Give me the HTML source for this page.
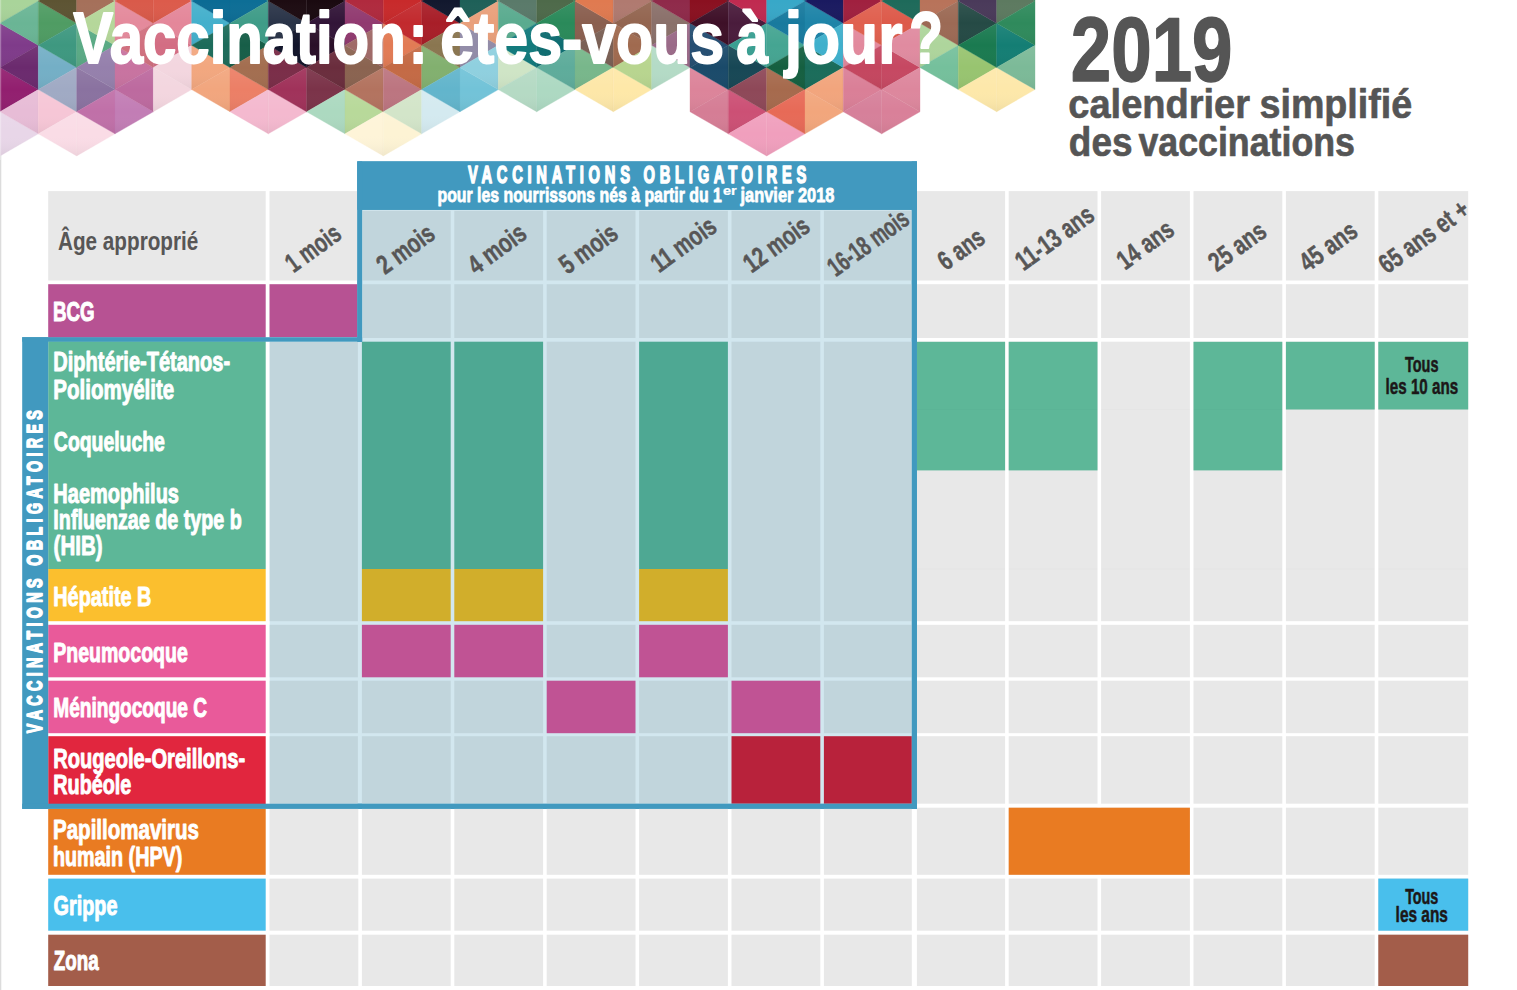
<!DOCTYPE html>
<html><head><meta charset="utf-8"><title>Vaccination : êtes-vous à jour ? 2019 calendrier simplifié des vaccinations</title>
<style>html,body{margin:0;padding:0;background:#fff;width:1517px;height:990px;overflow:hidden}svg{display:block}</style>
</head><body>
<svg width="1517" height="990" viewBox="0 0 1517 990"><rect x="0.00" y="0.00" width="1.30" height="990.00" fill="#dcdcdc"/>
<defs><linearGradient id="tg" x1="0" y1="0" x2="0" y2="1"><stop offset="0" stop-color="#fff" stop-opacity="0.07"/><stop offset="0.5" stop-color="#fff" stop-opacity="0"/><stop offset="1" stop-color="#000" stop-opacity="0.05"/></linearGradient></defs>
<g stroke-width="0.35" stroke-linejoin="round"><polygon points="0.00,156.00 0.00,111.74 38.33,133.87" stroke="#e8d6e8" fill="#e8d6e8"/>
<polygon points="0.00,111.74 0.00,67.47 38.33,89.60" stroke="#921f6f" fill="#921f6f"/>
<polygon points="0.00,67.47 0.00,23.21 38.33,45.34" stroke="#7f3b8a" fill="#7f3b8a"/>
<polygon points="0.00,23.21 0.00,-21.05 38.33,1.08" stroke="#a9d49a" fill="#a9d49a"/>
<polygon points="38.33,133.87 38.33,89.60 0.00,111.74" stroke="#e7bcd6" fill="#e7bcd6"/>
<polygon points="38.33,89.60 38.33,45.34 0.00,67.47" stroke="#6b2a6e" fill="#6b2a6e"/>
<polygon points="38.33,45.34 38.33,1.08 0.00,23.21" stroke="#6ab595" fill="#6ab595"/>
<polygon points="38.33,1.08 38.33,-43.19 0.00,-21.05" stroke="#a9d49a" fill="#a9d49a"/>
<polygon points="38.33,133.87 38.33,89.60 76.67,111.74" stroke="#f6c6d6" fill="#f6c6d6"/>
<polygon points="38.33,89.60 38.33,45.34 76.67,67.47" stroke="#74afc6" fill="#74afc6"/>
<polygon points="38.33,45.34 38.33,1.08 76.67,23.21" stroke="#4f9c63" fill="#4f9c63"/>
<polygon points="38.33,1.08 38.33,-43.19 76.67,-21.05" stroke="#a9d49a" fill="#a9d49a"/>
<polygon points="76.67,156.00 76.67,111.74 38.33,133.87" stroke="#fadce6" fill="#fadce6"/>
<polygon points="76.67,111.74 76.67,67.47 38.33,89.60" stroke="#a0aac4" fill="#a0aac4"/>
<polygon points="76.67,67.47 76.67,23.21 38.33,45.34" stroke="#3e9880" fill="#3e9880"/>
<polygon points="76.67,23.21 76.67,-21.05 38.33,1.08" stroke="#5d5433" fill="#5d5433"/>
<polygon points="76.67,156.00 76.67,111.74 115.00,133.87" stroke="#fadce6" fill="#fadce6"/>
<polygon points="76.67,111.74 76.67,67.47 115.00,89.60" stroke="#8a72a0" fill="#8a72a0"/>
<polygon points="76.67,67.47 76.67,23.21 115.00,45.34" stroke="#5aaa85" fill="#5aaa85"/>
<polygon points="76.67,23.21 76.67,-21.05 115.00,1.08" stroke="#a5705a" fill="#a5705a"/>
<polygon points="115.00,133.87 115.00,89.60 76.67,111.74" stroke="#c070a8" fill="#c070a8"/>
<polygon points="115.00,89.60 115.00,45.34 76.67,67.47" stroke="#9580ac" fill="#9580ac"/>
<polygon points="115.00,45.34 115.00,1.08 76.67,23.21" stroke="#b5d79a" fill="#b5d79a"/>
<polygon points="115.00,1.08 115.00,-43.19 76.67,-21.05" stroke="#b5d79a" fill="#b5d79a"/>
<polygon points="115.00,133.87 115.00,89.60 153.33,111.74" stroke="#c27db5" fill="#c27db5"/>
<polygon points="115.00,89.60 115.00,45.34 153.33,67.47" stroke="#c873a0" fill="#c873a0"/>
<polygon points="115.00,45.34 115.00,1.08 153.33,23.21" stroke="#e48a9c" fill="#e48a9c"/>
<polygon points="115.00,1.08 115.00,-43.19 153.33,-21.05" stroke="#e48a9c" fill="#e48a9c"/>
<polygon points="153.33,111.74 153.33,67.47 115.00,89.60" stroke="#bd6a9f" fill="#bd6a9f"/>
<polygon points="153.33,67.47 153.33,23.21 115.00,45.34" stroke="#d0707f" fill="#d0707f"/>
<polygon points="153.33,23.21 153.33,-21.05 115.00,1.08" stroke="#d95a4a" fill="#d95a4a"/>
<polygon points="153.33,111.74 153.33,67.47 191.67,89.60" stroke="#f3d6df" fill="#f3d6df"/>
<polygon points="153.33,67.47 153.33,23.21 191.67,45.34" stroke="#d36d83" fill="#d36d83"/>
<polygon points="153.33,23.21 153.33,-21.05 191.67,1.08" stroke="#dc5b4b" fill="#dc5b4b"/>
<polygon points="191.67,89.60 191.67,45.34 153.33,67.47" stroke="#f3d6df" fill="#f3d6df"/>
<polygon points="191.67,45.34 191.67,1.08 153.33,23.21" stroke="#e4879a" fill="#e4879a"/>
<polygon points="191.67,1.08 191.67,-43.19 153.33,-21.05" stroke="#e4879a" fill="#e4879a"/>
<polygon points="191.67,89.60 191.67,45.34 230.00,67.47" stroke="#f2a77f" fill="#f2a77f"/>
<polygon points="191.67,45.34 191.67,1.08 230.00,23.21" stroke="#44b0cc" fill="#44b0cc"/>
<polygon points="191.67,1.08 191.67,-43.19 230.00,-21.05" stroke="#44b0cc" fill="#44b0cc"/>
<polygon points="230.00,111.74 230.00,67.47 191.67,89.60" stroke="#f2a67e" fill="#f2a67e"/>
<polygon points="230.00,67.47 230.00,23.21 191.67,45.34" stroke="#1c6b5a" fill="#1c6b5a"/>
<polygon points="230.00,23.21 230.00,-21.05 191.67,1.08" stroke="#0b6b94" fill="#0b6b94"/>
<polygon points="230.00,111.74 230.00,67.47 268.33,89.60" stroke="#ec7f66" fill="#ec7f66"/>
<polygon points="230.00,67.47 230.00,23.21 268.33,45.34" stroke="#175e48" fill="#175e48"/>
<polygon points="230.00,23.21 230.00,-21.05 268.33,1.08" stroke="#0d6e96" fill="#0d6e96"/>
<polygon points="268.33,133.87 268.33,89.60 230.00,111.74" stroke="#f4b9cf" fill="#f4b9cf"/>
<polygon points="268.33,89.60 268.33,45.34 230.00,67.47" stroke="#a36e50" fill="#a36e50"/>
<polygon points="268.33,45.34 268.33,1.08 230.00,23.21" stroke="#3f9c88" fill="#3f9c88"/>
<polygon points="268.33,1.08 268.33,-43.19 230.00,-21.05" stroke="#3f9c88" fill="#3f9c88"/>
<polygon points="268.33,133.87 268.33,89.60 306.67,111.74" stroke="#f4b9cf" fill="#f4b9cf"/>
<polygon points="268.33,89.60 268.33,45.34 306.67,67.47" stroke="#7a2d48" fill="#7a2d48"/>
<polygon points="268.33,45.34 268.33,1.08 306.67,23.21" stroke="#2a3448" fill="#2a3448"/>
<polygon points="268.33,1.08 268.33,-43.19 306.67,-21.05" stroke="#2a3448" fill="#2a3448"/>
<polygon points="306.67,111.74 306.67,67.47 268.33,89.60" stroke="#a0325a" fill="#a0325a"/>
<polygon points="306.67,67.47 306.67,23.21 268.33,45.34" stroke="#12152a" fill="#12152a"/>
<polygon points="306.67,23.21 306.67,-21.05 268.33,1.08" stroke="#1d0c12" fill="#1d0c12"/>
<polygon points="306.67,111.74 306.67,67.47 345.00,89.60" stroke="#7b3349" fill="#7b3349"/>
<polygon points="306.67,67.47 306.67,23.21 345.00,45.34" stroke="#2a0f28" fill="#2a0f28"/>
<polygon points="306.67,23.21 306.67,-21.05 345.00,1.08" stroke="#1a0a10" fill="#1a0a10"/>
<polygon points="345.00,133.87 345.00,89.60 306.67,111.74" stroke="#acd9c0" fill="#acd9c0"/>
<polygon points="345.00,89.60 345.00,45.34 306.67,67.47" stroke="#6a2d3d" fill="#6a2d3d"/>
<polygon points="345.00,45.34 345.00,1.08 306.67,23.21" stroke="#321538" fill="#321538"/>
<polygon points="345.00,1.08 345.00,-43.19 306.67,-21.05" stroke="#321538" fill="#321538"/>
<polygon points="345.00,133.87 345.00,89.60 383.33,111.74" stroke="#b8d99a" fill="#b8d99a"/>
<polygon points="345.00,89.60 345.00,45.34 383.33,67.47" stroke="#8a6350" fill="#8a6350"/>
<polygon points="345.00,45.34 345.00,1.08 383.33,23.21" stroke="#913a70" fill="#913a70"/>
<polygon points="345.00,1.08 345.00,-43.19 383.33,-21.05" stroke="#913a70" fill="#913a70"/>
<polygon points="383.33,156.00 383.33,111.74 345.00,133.87" stroke="#fef4d8" fill="#fef4d8"/>
<polygon points="383.33,111.74 383.33,67.47 345.00,89.60" stroke="#b3735f" fill="#b3735f"/>
<polygon points="383.33,67.47 383.33,23.21 345.00,45.34" stroke="#a06a68" fill="#a06a68"/>
<polygon points="383.33,23.21 383.33,-21.05 345.00,1.08" stroke="#b02a3e" fill="#b02a3e"/>
<polygon points="383.33,156.00 383.33,111.74 421.67,133.87" stroke="#fdf3d4" fill="#fdf3d4"/>
<polygon points="383.33,111.74 383.33,67.47 421.67,89.60" stroke="#bc7580" fill="#bc7580"/>
<polygon points="383.33,67.47 383.33,23.21 421.67,45.34" stroke="#e27b55" fill="#e27b55"/>
<polygon points="383.33,23.21 383.33,-21.05 421.67,1.08" stroke="#c82a2b" fill="#c82a2b"/>
<polygon points="421.67,133.87 421.67,89.60 383.33,111.74" stroke="#d3e5c9" fill="#d3e5c9"/>
<polygon points="421.67,89.60 421.67,45.34 383.33,67.47" stroke="#c46a45" fill="#c46a45"/>
<polygon points="421.67,45.34 421.67,1.08 383.33,23.21" stroke="#c22a2e" fill="#c22a2e"/>
<polygon points="421.67,1.08 421.67,-43.19 383.33,-21.05" stroke="#c22a2e" fill="#c22a2e"/>
<polygon points="421.67,133.87 421.67,89.60 460.00,111.74" stroke="#d4eaf0" fill="#d4eaf0"/>
<polygon points="421.67,89.60 421.67,45.34 460.00,67.47" stroke="#82b06f" fill="#82b06f"/>
<polygon points="421.67,45.34 421.67,1.08 460.00,23.21" stroke="#a81e28" fill="#a81e28"/>
<polygon points="421.67,1.08 421.67,-43.19 460.00,-21.05" stroke="#a81e28" fill="#a81e28"/>
<polygon points="460.00,111.74 460.00,67.47 421.67,89.60" stroke="#62b5cc" fill="#62b5cc"/>
<polygon points="460.00,67.47 460.00,23.21 421.67,45.34" stroke="#8a7650" fill="#8a7650"/>
<polygon points="460.00,23.21 460.00,-21.05 421.67,1.08" stroke="#12182e" fill="#12182e"/>
<polygon points="460.00,111.74 460.00,67.47 498.33,89.60" stroke="#72c3d8" fill="#72c3d8"/>
<polygon points="460.00,67.47 460.00,23.21 498.33,45.34" stroke="#928ca8" fill="#928ca8"/>
<polygon points="460.00,23.21 460.00,-21.05 498.33,1.08" stroke="#1e6058" fill="#1e6058"/>
<polygon points="498.33,89.60 498.33,45.34 460.00,67.47" stroke="#8fd0df" fill="#8fd0df"/>
<polygon points="498.33,45.34 498.33,1.08 460.00,23.21" stroke="#e9a07b" fill="#e9a07b"/>
<polygon points="498.33,1.08 498.33,-43.19 460.00,-21.05" stroke="#e9a07b" fill="#e9a07b"/>
<polygon points="498.33,89.60 498.33,45.34 536.67,67.47" stroke="#cfe5c6" fill="#cfe5c6"/>
<polygon points="498.33,45.34 498.33,1.08 536.67,23.21" stroke="#5aab8f" fill="#5aab8f"/>
<polygon points="498.33,1.08 498.33,-43.19 536.67,-21.05" stroke="#5aab8f" fill="#5aab8f"/>
<polygon points="536.67,111.74 536.67,67.47 498.33,89.60" stroke="#b5dac4" fill="#b5dac4"/>
<polygon points="536.67,67.47 536.67,23.21 498.33,45.34" stroke="#127a7c" fill="#127a7c"/>
<polygon points="536.67,23.21 536.67,-21.05 498.33,1.08" stroke="#5a7a6a" fill="#5a7a6a"/>
<polygon points="536.67,111.74 536.67,67.47 575.00,89.60" stroke="#add9c2" fill="#add9c2"/>
<polygon points="536.67,67.47 536.67,23.21 575.00,45.34" stroke="#0e6c70" fill="#0e6c70"/>
<polygon points="536.67,23.21 536.67,-21.05 575.00,1.08" stroke="#4e6a4a" fill="#4e6a4a"/>
<polygon points="575.00,89.60 575.00,45.34 536.67,67.47" stroke="#5eac9b" fill="#5eac9b"/>
<polygon points="575.00,45.34 575.00,1.08 536.67,23.21" stroke="#2a8a5a" fill="#2a8a5a"/>
<polygon points="575.00,1.08 575.00,-43.19 536.67,-21.05" stroke="#2a8a5a" fill="#2a8a5a"/>
<polygon points="575.00,89.60 575.00,45.34 613.33,67.47" stroke="#78b78b" fill="#78b78b"/>
<polygon points="575.00,45.34 575.00,1.08 613.33,23.21" stroke="#8a5f4f" fill="#8a5f4f"/>
<polygon points="575.00,1.08 575.00,-43.19 613.33,-21.05" stroke="#8a5f4f" fill="#8a5f4f"/>
<polygon points="613.33,111.74 613.33,67.47 575.00,89.60" stroke="#fde7a8" fill="#fde7a8"/>
<polygon points="613.33,67.47 613.33,23.21 575.00,45.34" stroke="#7a6055" fill="#7a6055"/>
<polygon points="613.33,23.21 613.33,-21.05 575.00,1.08" stroke="#e07a50" fill="#e07a50"/>
<polygon points="613.33,111.74 613.33,67.47 651.67,89.60" stroke="#fee8a8" fill="#fee8a8"/>
<polygon points="613.33,67.47 613.33,23.21 651.67,45.34" stroke="#a06a4f" fill="#a06a4f"/>
<polygon points="613.33,23.21 613.33,-21.05 651.67,1.08" stroke="#b07a70" fill="#b07a70"/>
<polygon points="651.67,89.60 651.67,45.34 613.33,67.47" stroke="#b8d58f" fill="#b8d58f"/>
<polygon points="651.67,45.34 651.67,1.08 613.33,23.21" stroke="#936550" fill="#936550"/>
<polygon points="651.67,1.08 651.67,-43.19 613.33,-21.05" stroke="#936550" fill="#936550"/>
<polygon points="651.67,89.60 651.67,45.34 690.00,67.47" stroke="#b4dbc6" fill="#b4dbc6"/>
<polygon points="651.67,45.34 651.67,1.08 690.00,23.21" stroke="#8a706a" fill="#8a706a"/>
<polygon points="651.67,1.08 651.67,-43.19 690.00,-21.05" stroke="#8a706a" fill="#8a706a"/>
<polygon points="690.00,67.47 690.00,23.21 651.67,45.34" stroke="#9a6a88" fill="#9a6a88"/>
<polygon points="690.00,23.21 690.00,-21.05 651.67,1.08" stroke="#8f2a4a" fill="#8f2a4a"/>
<polygon points="690.00,111.74 690.00,67.47 728.33,89.60" stroke="#dc849a" fill="#dc849a"/>
<polygon points="690.00,67.47 690.00,23.21 728.33,45.34" stroke="#254e72" fill="#254e72"/>
<polygon points="690.00,23.21 690.00,-21.05 728.33,1.08" stroke="#8a1020" fill="#8a1020"/>
<polygon points="728.33,133.87 728.33,89.60 690.00,111.74" stroke="#d57d95" fill="#d57d95"/>
<polygon points="728.33,89.60 728.33,45.34 690.00,67.47" stroke="#1a4a6a" fill="#1a4a6a"/>
<polygon points="728.33,45.34 728.33,1.08 690.00,23.21" stroke="#3e1028" fill="#3e1028"/>
<polygon points="728.33,1.08 728.33,-43.19 690.00,-21.05" stroke="#3e1028" fill="#3e1028"/>
<polygon points="728.33,133.87 728.33,89.60 766.67,111.74" stroke="#cc5075" fill="#cc5075"/>
<polygon points="728.33,89.60 728.33,45.34 766.67,67.47" stroke="#174755" fill="#174755"/>
<polygon points="728.33,45.34 728.33,1.08 766.67,23.21" stroke="#4a1c3c" fill="#4a1c3c"/>
<polygon points="728.33,1.08 728.33,-43.19 766.67,-21.05" stroke="#4a1c3c" fill="#4a1c3c"/>
<polygon points="766.67,156.00 766.67,111.74 728.33,133.87" stroke="#f09fbd" fill="#f09fbd"/>
<polygon points="766.67,111.74 766.67,67.47 728.33,89.60" stroke="#8e4858" fill="#8e4858"/>
<polygon points="766.67,67.47 766.67,23.21 728.33,45.34" stroke="#3a9f92" fill="#3a9f92"/>
<polygon points="766.67,23.21 766.67,-21.05 728.33,1.08" stroke="#c02a50" fill="#c02a50"/>
<polygon points="766.67,156.00 766.67,111.74 805.00,133.87" stroke="#f09fbd" fill="#f09fbd"/>
<polygon points="766.67,111.74 766.67,67.47 805.00,89.60" stroke="#a66a4d" fill="#a66a4d"/>
<polygon points="766.67,67.47 766.67,23.21 805.00,45.34" stroke="#45a592" fill="#45a592"/>
<polygon points="766.67,23.21 766.67,-21.05 805.00,1.08" stroke="#38a8c8" fill="#38a8c8"/>
<polygon points="805.00,133.87 805.00,89.60 766.67,111.74" stroke="#e76a57" fill="#e76a57"/>
<polygon points="805.00,89.60 805.00,45.34 766.67,67.47" stroke="#155f40" fill="#155f40"/>
<polygon points="805.00,45.34 805.00,1.08 766.67,23.21" stroke="#187a9e" fill="#187a9e"/>
<polygon points="805.00,1.08 805.00,-43.19 766.67,-21.05" stroke="#187a9e" fill="#187a9e"/>
<polygon points="805.00,133.87 805.00,89.60 843.33,111.74" stroke="#f2a67c" fill="#f2a67c"/>
<polygon points="805.00,89.60 805.00,45.34 843.33,67.47" stroke="#1a6c5a" fill="#1a6c5a"/>
<polygon points="805.00,45.34 805.00,1.08 843.33,23.21" stroke="#1e84a8" fill="#1e84a8"/>
<polygon points="805.00,1.08 805.00,-43.19 843.33,-21.05" stroke="#1e84a8" fill="#1e84a8"/>
<polygon points="843.33,111.74 843.33,67.47 805.00,89.60" stroke="#f2a57d" fill="#f2a57d"/>
<polygon points="843.33,67.47 843.33,23.21 805.00,45.34" stroke="#3fb0cc" fill="#3fb0cc"/>
<polygon points="843.33,23.21 843.33,-21.05 805.00,1.08" stroke="#1a1a60" fill="#1a1a60"/>
<polygon points="843.33,111.74 843.33,67.47 881.67,89.60" stroke="#da7f97" fill="#da7f97"/>
<polygon points="843.33,67.47 843.33,23.21 881.67,45.34" stroke="#e2899d" fill="#e2899d"/>
<polygon points="843.33,23.21 843.33,-21.05 881.67,1.08" stroke="#a0203f" fill="#a0203f"/>
<polygon points="881.67,133.87 881.67,89.60 843.33,111.74" stroke="#d6809a" fill="#d6809a"/>
<polygon points="881.67,89.60 881.67,45.34 843.33,67.47" stroke="#c4465f" fill="#c4465f"/>
<polygon points="881.67,45.34 881.67,1.08 843.33,23.21" stroke="#e0604f" fill="#e0604f"/>
<polygon points="881.67,1.08 881.67,-43.19 843.33,-21.05" stroke="#e0604f" fill="#e0604f"/>
<polygon points="881.67,133.87 881.67,89.60 920.00,111.74" stroke="#d98099" fill="#d98099"/>
<polygon points="881.67,89.60 881.67,45.34 920.00,67.47" stroke="#c64862" fill="#c64862"/>
<polygon points="881.67,45.34 881.67,1.08 920.00,23.21" stroke="#dd5a4a" fill="#dd5a4a"/>
<polygon points="881.67,1.08 881.67,-43.19 920.00,-21.05" stroke="#dd5a4a" fill="#dd5a4a"/>
<polygon points="920.00,111.74 920.00,67.47 881.67,89.60" stroke="#dd879d" fill="#dd879d"/>
<polygon points="920.00,67.47 920.00,23.21 881.67,45.34" stroke="#e08ba0" fill="#e08ba0"/>
<polygon points="920.00,23.21 920.00,-21.05 881.67,1.08" stroke="#1e6a5a" fill="#1e6a5a"/>
<polygon points="920.00,67.47 920.00,23.21 958.33,45.34" stroke="#aed59c" fill="#aed59c"/>
<polygon points="920.00,23.21 920.00,-21.05 958.33,1.08" stroke="#b8735a" fill="#b8735a"/>
<polygon points="958.33,89.60 958.33,45.34 920.00,67.47" stroke="#75c09c" fill="#75c09c"/>
<polygon points="958.33,45.34 958.33,1.08 920.00,23.21" stroke="#9c6a55" fill="#9c6a55"/>
<polygon points="958.33,1.08 958.33,-43.19 920.00,-21.05" stroke="#9c6a55" fill="#9c6a55"/>
<polygon points="958.33,89.60 958.33,45.34 996.67,67.47" stroke="#98c470" fill="#98c470"/>
<polygon points="958.33,45.34 958.33,1.08 996.67,23.21" stroke="#254a45" fill="#254a45"/>
<polygon points="958.33,1.08 958.33,-43.19 996.67,-21.05" stroke="#254a45" fill="#254a45"/>
<polygon points="996.67,111.74 996.67,67.47 958.33,89.60" stroke="#fde8aa" fill="#fde8aa"/>
<polygon points="996.67,67.47 996.67,23.21 958.33,45.34" stroke="#1a7a50" fill="#1a7a50"/>
<polygon points="996.67,23.21 996.67,-21.05 958.33,1.08" stroke="#4a3a5a" fill="#4a3a5a"/>
<polygon points="996.67,111.74 996.67,67.47 1035.00,89.60" stroke="#fde8aa" fill="#fde8aa"/>
<polygon points="996.67,67.47 996.67,23.21 1035.00,45.34" stroke="#147e74" fill="#147e74"/>
<polygon points="996.67,23.21 996.67,-21.05 1035.00,1.08" stroke="#5d7a60" fill="#5d7a60"/>
<polygon points="1035.00,89.60 1035.00,45.34 996.67,67.47" stroke="#7cba98" fill="#7cba98"/>
<polygon points="1035.00,45.34 1035.00,1.08 996.67,23.21" stroke="#2f8a5c" fill="#2f8a5c"/>
<polygon points="1035.00,1.08 1035.00,-43.19 996.67,-21.05" stroke="#2f8a5c" fill="#2f8a5c"/></g>
<g fill="url(#tg)"><polygon points="0.00,156.00 0.00,111.74 38.33,133.87"/>
<polygon points="0.00,111.74 0.00,67.47 38.33,89.60"/>
<polygon points="0.00,67.47 0.00,23.21 38.33,45.34"/>
<polygon points="0.00,23.21 0.00,-21.05 38.33,1.08"/>
<polygon points="38.33,133.87 38.33,89.60 0.00,111.74"/>
<polygon points="38.33,89.60 38.33,45.34 0.00,67.47"/>
<polygon points="38.33,45.34 38.33,1.08 0.00,23.21"/>
<polygon points="38.33,1.08 38.33,-43.19 0.00,-21.05"/>
<polygon points="38.33,133.87 38.33,89.60 76.67,111.74"/>
<polygon points="38.33,89.60 38.33,45.34 76.67,67.47"/>
<polygon points="38.33,45.34 38.33,1.08 76.67,23.21"/>
<polygon points="38.33,1.08 38.33,-43.19 76.67,-21.05"/>
<polygon points="76.67,156.00 76.67,111.74 38.33,133.87"/>
<polygon points="76.67,111.74 76.67,67.47 38.33,89.60"/>
<polygon points="76.67,67.47 76.67,23.21 38.33,45.34"/>
<polygon points="76.67,23.21 76.67,-21.05 38.33,1.08"/>
<polygon points="76.67,156.00 76.67,111.74 115.00,133.87"/>
<polygon points="76.67,111.74 76.67,67.47 115.00,89.60"/>
<polygon points="76.67,67.47 76.67,23.21 115.00,45.34"/>
<polygon points="76.67,23.21 76.67,-21.05 115.00,1.08"/>
<polygon points="115.00,133.87 115.00,89.60 76.67,111.74"/>
<polygon points="115.00,89.60 115.00,45.34 76.67,67.47"/>
<polygon points="115.00,45.34 115.00,1.08 76.67,23.21"/>
<polygon points="115.00,1.08 115.00,-43.19 76.67,-21.05"/>
<polygon points="115.00,133.87 115.00,89.60 153.33,111.74"/>
<polygon points="115.00,89.60 115.00,45.34 153.33,67.47"/>
<polygon points="115.00,45.34 115.00,1.08 153.33,23.21"/>
<polygon points="115.00,1.08 115.00,-43.19 153.33,-21.05"/>
<polygon points="153.33,111.74 153.33,67.47 115.00,89.60"/>
<polygon points="153.33,67.47 153.33,23.21 115.00,45.34"/>
<polygon points="153.33,23.21 153.33,-21.05 115.00,1.08"/>
<polygon points="153.33,111.74 153.33,67.47 191.67,89.60"/>
<polygon points="153.33,67.47 153.33,23.21 191.67,45.34"/>
<polygon points="153.33,23.21 153.33,-21.05 191.67,1.08"/>
<polygon points="191.67,89.60 191.67,45.34 153.33,67.47"/>
<polygon points="191.67,45.34 191.67,1.08 153.33,23.21"/>
<polygon points="191.67,1.08 191.67,-43.19 153.33,-21.05"/>
<polygon points="191.67,89.60 191.67,45.34 230.00,67.47"/>
<polygon points="191.67,45.34 191.67,1.08 230.00,23.21"/>
<polygon points="191.67,1.08 191.67,-43.19 230.00,-21.05"/>
<polygon points="230.00,111.74 230.00,67.47 191.67,89.60"/>
<polygon points="230.00,67.47 230.00,23.21 191.67,45.34"/>
<polygon points="230.00,23.21 230.00,-21.05 191.67,1.08"/>
<polygon points="230.00,111.74 230.00,67.47 268.33,89.60"/>
<polygon points="230.00,67.47 230.00,23.21 268.33,45.34"/>
<polygon points="230.00,23.21 230.00,-21.05 268.33,1.08"/>
<polygon points="268.33,133.87 268.33,89.60 230.00,111.74"/>
<polygon points="268.33,89.60 268.33,45.34 230.00,67.47"/>
<polygon points="268.33,45.34 268.33,1.08 230.00,23.21"/>
<polygon points="268.33,1.08 268.33,-43.19 230.00,-21.05"/>
<polygon points="268.33,133.87 268.33,89.60 306.67,111.74"/>
<polygon points="268.33,89.60 268.33,45.34 306.67,67.47"/>
<polygon points="268.33,45.34 268.33,1.08 306.67,23.21"/>
<polygon points="268.33,1.08 268.33,-43.19 306.67,-21.05"/>
<polygon points="306.67,111.74 306.67,67.47 268.33,89.60"/>
<polygon points="306.67,67.47 306.67,23.21 268.33,45.34"/>
<polygon points="306.67,23.21 306.67,-21.05 268.33,1.08"/>
<polygon points="306.67,111.74 306.67,67.47 345.00,89.60"/>
<polygon points="306.67,67.47 306.67,23.21 345.00,45.34"/>
<polygon points="306.67,23.21 306.67,-21.05 345.00,1.08"/>
<polygon points="345.00,133.87 345.00,89.60 306.67,111.74"/>
<polygon points="345.00,89.60 345.00,45.34 306.67,67.47"/>
<polygon points="345.00,45.34 345.00,1.08 306.67,23.21"/>
<polygon points="345.00,1.08 345.00,-43.19 306.67,-21.05"/>
<polygon points="345.00,133.87 345.00,89.60 383.33,111.74"/>
<polygon points="345.00,89.60 345.00,45.34 383.33,67.47"/>
<polygon points="345.00,45.34 345.00,1.08 383.33,23.21"/>
<polygon points="345.00,1.08 345.00,-43.19 383.33,-21.05"/>
<polygon points="383.33,156.00 383.33,111.74 345.00,133.87"/>
<polygon points="383.33,111.74 383.33,67.47 345.00,89.60"/>
<polygon points="383.33,67.47 383.33,23.21 345.00,45.34"/>
<polygon points="383.33,23.21 383.33,-21.05 345.00,1.08"/>
<polygon points="383.33,156.00 383.33,111.74 421.67,133.87"/>
<polygon points="383.33,111.74 383.33,67.47 421.67,89.60"/>
<polygon points="383.33,67.47 383.33,23.21 421.67,45.34"/>
<polygon points="383.33,23.21 383.33,-21.05 421.67,1.08"/>
<polygon points="421.67,133.87 421.67,89.60 383.33,111.74"/>
<polygon points="421.67,89.60 421.67,45.34 383.33,67.47"/>
<polygon points="421.67,45.34 421.67,1.08 383.33,23.21"/>
<polygon points="421.67,1.08 421.67,-43.19 383.33,-21.05"/>
<polygon points="421.67,133.87 421.67,89.60 460.00,111.74"/>
<polygon points="421.67,89.60 421.67,45.34 460.00,67.47"/>
<polygon points="421.67,45.34 421.67,1.08 460.00,23.21"/>
<polygon points="421.67,1.08 421.67,-43.19 460.00,-21.05"/>
<polygon points="460.00,111.74 460.00,67.47 421.67,89.60"/>
<polygon points="460.00,67.47 460.00,23.21 421.67,45.34"/>
<polygon points="460.00,23.21 460.00,-21.05 421.67,1.08"/>
<polygon points="460.00,111.74 460.00,67.47 498.33,89.60"/>
<polygon points="460.00,67.47 460.00,23.21 498.33,45.34"/>
<polygon points="460.00,23.21 460.00,-21.05 498.33,1.08"/>
<polygon points="498.33,89.60 498.33,45.34 460.00,67.47"/>
<polygon points="498.33,45.34 498.33,1.08 460.00,23.21"/>
<polygon points="498.33,1.08 498.33,-43.19 460.00,-21.05"/>
<polygon points="498.33,89.60 498.33,45.34 536.67,67.47"/>
<polygon points="498.33,45.34 498.33,1.08 536.67,23.21"/>
<polygon points="498.33,1.08 498.33,-43.19 536.67,-21.05"/>
<polygon points="536.67,111.74 536.67,67.47 498.33,89.60"/>
<polygon points="536.67,67.47 536.67,23.21 498.33,45.34"/>
<polygon points="536.67,23.21 536.67,-21.05 498.33,1.08"/>
<polygon points="536.67,111.74 536.67,67.47 575.00,89.60"/>
<polygon points="536.67,67.47 536.67,23.21 575.00,45.34"/>
<polygon points="536.67,23.21 536.67,-21.05 575.00,1.08"/>
<polygon points="575.00,89.60 575.00,45.34 536.67,67.47"/>
<polygon points="575.00,45.34 575.00,1.08 536.67,23.21"/>
<polygon points="575.00,1.08 575.00,-43.19 536.67,-21.05"/>
<polygon points="575.00,89.60 575.00,45.34 613.33,67.47"/>
<polygon points="575.00,45.34 575.00,1.08 613.33,23.21"/>
<polygon points="575.00,1.08 575.00,-43.19 613.33,-21.05"/>
<polygon points="613.33,111.74 613.33,67.47 575.00,89.60"/>
<polygon points="613.33,67.47 613.33,23.21 575.00,45.34"/>
<polygon points="613.33,23.21 613.33,-21.05 575.00,1.08"/>
<polygon points="613.33,111.74 613.33,67.47 651.67,89.60"/>
<polygon points="613.33,67.47 613.33,23.21 651.67,45.34"/>
<polygon points="613.33,23.21 613.33,-21.05 651.67,1.08"/>
<polygon points="651.67,89.60 651.67,45.34 613.33,67.47"/>
<polygon points="651.67,45.34 651.67,1.08 613.33,23.21"/>
<polygon points="651.67,1.08 651.67,-43.19 613.33,-21.05"/>
<polygon points="651.67,89.60 651.67,45.34 690.00,67.47"/>
<polygon points="651.67,45.34 651.67,1.08 690.00,23.21"/>
<polygon points="651.67,1.08 651.67,-43.19 690.00,-21.05"/>
<polygon points="690.00,67.47 690.00,23.21 651.67,45.34"/>
<polygon points="690.00,23.21 690.00,-21.05 651.67,1.08"/>
<polygon points="690.00,111.74 690.00,67.47 728.33,89.60"/>
<polygon points="690.00,67.47 690.00,23.21 728.33,45.34"/>
<polygon points="690.00,23.21 690.00,-21.05 728.33,1.08"/>
<polygon points="728.33,133.87 728.33,89.60 690.00,111.74"/>
<polygon points="728.33,89.60 728.33,45.34 690.00,67.47"/>
<polygon points="728.33,45.34 728.33,1.08 690.00,23.21"/>
<polygon points="728.33,1.08 728.33,-43.19 690.00,-21.05"/>
<polygon points="728.33,133.87 728.33,89.60 766.67,111.74"/>
<polygon points="728.33,89.60 728.33,45.34 766.67,67.47"/>
<polygon points="728.33,45.34 728.33,1.08 766.67,23.21"/>
<polygon points="728.33,1.08 728.33,-43.19 766.67,-21.05"/>
<polygon points="766.67,156.00 766.67,111.74 728.33,133.87"/>
<polygon points="766.67,111.74 766.67,67.47 728.33,89.60"/>
<polygon points="766.67,67.47 766.67,23.21 728.33,45.34"/>
<polygon points="766.67,23.21 766.67,-21.05 728.33,1.08"/>
<polygon points="766.67,156.00 766.67,111.74 805.00,133.87"/>
<polygon points="766.67,111.74 766.67,67.47 805.00,89.60"/>
<polygon points="766.67,67.47 766.67,23.21 805.00,45.34"/>
<polygon points="766.67,23.21 766.67,-21.05 805.00,1.08"/>
<polygon points="805.00,133.87 805.00,89.60 766.67,111.74"/>
<polygon points="805.00,89.60 805.00,45.34 766.67,67.47"/>
<polygon points="805.00,45.34 805.00,1.08 766.67,23.21"/>
<polygon points="805.00,1.08 805.00,-43.19 766.67,-21.05"/>
<polygon points="805.00,133.87 805.00,89.60 843.33,111.74"/>
<polygon points="805.00,89.60 805.00,45.34 843.33,67.47"/>
<polygon points="805.00,45.34 805.00,1.08 843.33,23.21"/>
<polygon points="805.00,1.08 805.00,-43.19 843.33,-21.05"/>
<polygon points="843.33,111.74 843.33,67.47 805.00,89.60"/>
<polygon points="843.33,67.47 843.33,23.21 805.00,45.34"/>
<polygon points="843.33,23.21 843.33,-21.05 805.00,1.08"/>
<polygon points="843.33,111.74 843.33,67.47 881.67,89.60"/>
<polygon points="843.33,67.47 843.33,23.21 881.67,45.34"/>
<polygon points="843.33,23.21 843.33,-21.05 881.67,1.08"/>
<polygon points="881.67,133.87 881.67,89.60 843.33,111.74"/>
<polygon points="881.67,89.60 881.67,45.34 843.33,67.47"/>
<polygon points="881.67,45.34 881.67,1.08 843.33,23.21"/>
<polygon points="881.67,1.08 881.67,-43.19 843.33,-21.05"/>
<polygon points="881.67,133.87 881.67,89.60 920.00,111.74"/>
<polygon points="881.67,89.60 881.67,45.34 920.00,67.47"/>
<polygon points="881.67,45.34 881.67,1.08 920.00,23.21"/>
<polygon points="881.67,1.08 881.67,-43.19 920.00,-21.05"/>
<polygon points="920.00,111.74 920.00,67.47 881.67,89.60"/>
<polygon points="920.00,67.47 920.00,23.21 881.67,45.34"/>
<polygon points="920.00,23.21 920.00,-21.05 881.67,1.08"/>
<polygon points="920.00,67.47 920.00,23.21 958.33,45.34"/>
<polygon points="920.00,23.21 920.00,-21.05 958.33,1.08"/>
<polygon points="958.33,89.60 958.33,45.34 920.00,67.47"/>
<polygon points="958.33,45.34 958.33,1.08 920.00,23.21"/>
<polygon points="958.33,1.08 958.33,-43.19 920.00,-21.05"/>
<polygon points="958.33,89.60 958.33,45.34 996.67,67.47"/>
<polygon points="958.33,45.34 958.33,1.08 996.67,23.21"/>
<polygon points="958.33,1.08 958.33,-43.19 996.67,-21.05"/>
<polygon points="996.67,111.74 996.67,67.47 958.33,89.60"/>
<polygon points="996.67,67.47 996.67,23.21 958.33,45.34"/>
<polygon points="996.67,23.21 996.67,-21.05 958.33,1.08"/>
<polygon points="996.67,111.74 996.67,67.47 1035.00,89.60"/>
<polygon points="996.67,67.47 996.67,23.21 1035.00,45.34"/>
<polygon points="996.67,23.21 996.67,-21.05 1035.00,1.08"/>
<polygon points="1035.00,89.60 1035.00,45.34 996.67,67.47"/>
<polygon points="1035.00,45.34 1035.00,1.08 996.67,23.21"/>
<polygon points="1035.00,1.08 1035.00,-43.19 996.67,-21.05"/></g>
<rect x="0" y="0" width="1.2" height="160" fill="#fff" opacity="0.3"/>
<rect x="357.30" y="161.40" width="559.60" height="647.50" fill="#4199bf"/>
<rect x="362.10" y="209.80" width="549.70" height="593.90" fill="#d2e7ef"/>
<rect x="269.70" y="341.70" width="642.10" height="462.00" fill="#d2e7ef"/>
<rect x="48.20" y="191.10" width="217.50" height="89.40" fill="#e8e8e8"/>
<rect x="269.50" y="191.10" width="87.80" height="89.40" fill="#e8e8e8"/>
<rect x="362.30" y="210.80" width="88.40" height="69.70" fill="#c1d5dc"/>
<rect x="454.30" y="210.80" width="88.80" height="69.70" fill="#c1d5dc"/>
<rect x="546.70" y="210.80" width="88.80" height="69.70" fill="#c1d5dc"/>
<rect x="639.10" y="210.80" width="88.80" height="69.70" fill="#c1d5dc"/>
<rect x="731.50" y="210.80" width="88.80" height="69.70" fill="#c1d5dc"/>
<rect x="823.90" y="210.80" width="87.90" height="69.70" fill="#c1d5dc"/>
<rect x="916.90" y="191.10" width="88.20" height="89.40" fill="#e8e8e8"/>
<rect x="1008.70" y="191.10" width="88.80" height="89.40" fill="#e8e8e8"/>
<rect x="1101.10" y="191.10" width="88.80" height="89.40" fill="#e8e8e8"/>
<rect x="1193.50" y="191.10" width="88.80" height="89.40" fill="#e8e8e8"/>
<rect x="1285.90" y="191.10" width="88.80" height="89.40" fill="#e8e8e8"/>
<rect x="1378.30" y="191.10" width="89.90" height="89.40" fill="#e8e8e8"/>
<rect x="48.20" y="284.20" width="217.50" height="53.50" fill="#b75293"/>
<rect x="48.20" y="341.20" width="217.50" height="227.80" fill="#5db798"/>
<rect x="48.20" y="569.00" width="217.50" height="52.20" fill="#fbbf2e"/>
<rect x="48.20" y="624.80" width="217.50" height="52.50" fill="#e95a9a"/>
<rect x="48.20" y="680.70" width="217.50" height="52.50" fill="#e95a9a"/>
<rect x="48.20" y="736.20" width="217.50" height="68.00" fill="#e1263e"/>
<rect x="48.20" y="808.70" width="217.50" height="66.10" fill="#e97b22"/>
<rect x="48.20" y="878.60" width="217.50" height="52.10" fill="#49bfec"/>
<rect x="48.20" y="934.70" width="217.50" height="51.30" fill="#a35d4a"/>
<rect x="269.50" y="284.20" width="87.80" height="53.00" fill="#b75293"/>
<rect x="269.70" y="341.70" width="88.20" height="279.50" fill="#c1d5dc"/>
<rect x="269.70" y="624.80" width="88.20" height="52.50" fill="#c1d5dc"/>
<rect x="269.70" y="680.70" width="88.20" height="52.50" fill="#c1d5dc"/>
<rect x="269.70" y="736.20" width="88.20" height="67.50" fill="#c1d5dc"/>
<rect x="269.50" y="807.70" width="88.80" height="67.10" fill="#e8e8e8"/>
<rect x="269.50" y="878.60" width="88.80" height="52.10" fill="#e8e8e8"/>
<rect x="269.50" y="934.70" width="88.80" height="51.30" fill="#e8e8e8"/>
<rect x="362.30" y="284.20" width="88.40" height="53.80" fill="#c1d5dc"/>
<rect x="361.90" y="341.70" width="88.80" height="227.30" fill="#4ea893"/>
<rect x="361.90" y="569.00" width="88.80" height="52.20" fill="#d1ae2b"/>
<rect x="361.90" y="624.80" width="88.80" height="52.50" fill="#c05394"/>
<rect x="361.90" y="680.70" width="88.80" height="52.50" fill="#c1d5dc"/>
<rect x="361.90" y="736.20" width="88.80" height="67.50" fill="#c1d5dc"/>
<rect x="361.90" y="807.70" width="88.80" height="67.10" fill="#e8e8e8"/>
<rect x="361.90" y="878.60" width="88.80" height="52.10" fill="#e8e8e8"/>
<rect x="361.90" y="934.70" width="88.80" height="51.30" fill="#e8e8e8"/>
<rect x="454.30" y="284.20" width="88.80" height="53.80" fill="#c1d5dc"/>
<rect x="454.30" y="341.70" width="88.80" height="227.30" fill="#4ea893"/>
<rect x="454.30" y="569.00" width="88.80" height="52.20" fill="#d1ae2b"/>
<rect x="454.30" y="624.80" width="88.80" height="52.50" fill="#c05394"/>
<rect x="454.30" y="680.70" width="88.80" height="52.50" fill="#c1d5dc"/>
<rect x="454.30" y="736.20" width="88.80" height="67.50" fill="#c1d5dc"/>
<rect x="454.30" y="807.70" width="88.80" height="67.10" fill="#e8e8e8"/>
<rect x="454.30" y="878.60" width="88.80" height="52.10" fill="#e8e8e8"/>
<rect x="454.30" y="934.70" width="88.80" height="51.30" fill="#e8e8e8"/>
<rect x="546.70" y="284.20" width="88.80" height="53.80" fill="#c1d5dc"/>
<rect x="546.70" y="341.70" width="88.80" height="279.50" fill="#c1d5dc"/>
<rect x="546.70" y="624.80" width="88.80" height="52.50" fill="#c1d5dc"/>
<rect x="546.70" y="680.70" width="88.80" height="52.50" fill="#c05394"/>
<rect x="546.70" y="736.20" width="88.80" height="67.50" fill="#c1d5dc"/>
<rect x="546.70" y="807.70" width="88.80" height="67.10" fill="#e8e8e8"/>
<rect x="546.70" y="878.60" width="88.80" height="52.10" fill="#e8e8e8"/>
<rect x="546.70" y="934.70" width="88.80" height="51.30" fill="#e8e8e8"/>
<rect x="639.10" y="284.20" width="88.80" height="53.80" fill="#c1d5dc"/>
<rect x="639.10" y="341.70" width="88.80" height="227.30" fill="#4ea893"/>
<rect x="639.10" y="569.00" width="88.80" height="52.20" fill="#d1ae2b"/>
<rect x="639.10" y="624.80" width="88.80" height="52.50" fill="#c05394"/>
<rect x="639.10" y="680.70" width="88.80" height="52.50" fill="#c1d5dc"/>
<rect x="639.10" y="736.20" width="88.80" height="67.50" fill="#c1d5dc"/>
<rect x="639.10" y="807.70" width="88.80" height="67.10" fill="#e8e8e8"/>
<rect x="639.10" y="878.60" width="88.80" height="52.10" fill="#e8e8e8"/>
<rect x="639.10" y="934.70" width="88.80" height="51.30" fill="#e8e8e8"/>
<rect x="731.50" y="284.20" width="88.80" height="53.80" fill="#c1d5dc"/>
<rect x="731.50" y="341.70" width="88.80" height="279.50" fill="#c1d5dc"/>
<rect x="731.50" y="624.80" width="88.80" height="52.50" fill="#c1d5dc"/>
<rect x="731.50" y="680.70" width="88.80" height="52.50" fill="#c05394"/>
<rect x="731.50" y="736.20" width="88.80" height="67.50" fill="#b8223b"/>
<rect x="731.50" y="807.70" width="88.80" height="67.10" fill="#e8e8e8"/>
<rect x="731.50" y="878.60" width="88.80" height="52.10" fill="#e8e8e8"/>
<rect x="731.50" y="934.70" width="88.80" height="51.30" fill="#e8e8e8"/>
<rect x="823.90" y="284.20" width="87.90" height="53.80" fill="#c1d5dc"/>
<rect x="823.90" y="341.70" width="87.90" height="279.50" fill="#c1d5dc"/>
<rect x="823.90" y="624.80" width="87.90" height="52.50" fill="#c1d5dc"/>
<rect x="823.90" y="680.70" width="87.90" height="52.50" fill="#c1d5dc"/>
<rect x="823.90" y="736.20" width="87.90" height="67.50" fill="#b8223b"/>
<rect x="823.90" y="807.70" width="87.90" height="67.10" fill="#e8e8e8"/>
<rect x="823.90" y="878.60" width="87.90" height="52.10" fill="#e8e8e8"/>
<rect x="823.90" y="934.70" width="87.90" height="51.30" fill="#e8e8e8"/>
<rect x="916.90" y="284.20" width="88.20" height="53.80" fill="#e8e8e8"/>
<rect x="916.90" y="341.70" width="88.20" height="279.50" fill="#e8e8e8"/>
<rect x="916.90" y="624.80" width="88.20" height="52.50" fill="#e8e8e8"/>
<rect x="916.90" y="680.70" width="88.20" height="52.50" fill="#e8e8e8"/>
<rect x="916.90" y="736.20" width="88.20" height="67.50" fill="#e8e8e8"/>
<rect x="916.90" y="807.70" width="88.20" height="67.10" fill="#e8e8e8"/>
<rect x="916.90" y="878.60" width="88.20" height="52.10" fill="#e8e8e8"/>
<rect x="916.90" y="934.70" width="88.20" height="51.30" fill="#e8e8e8"/>
<rect x="1008.70" y="284.20" width="88.80" height="53.80" fill="#e8e8e8"/>
<rect x="1008.70" y="341.70" width="88.80" height="279.50" fill="#e8e8e8"/>
<rect x="1008.70" y="624.80" width="88.80" height="52.50" fill="#e8e8e8"/>
<rect x="1008.70" y="680.70" width="88.80" height="52.50" fill="#e8e8e8"/>
<rect x="1008.70" y="736.20" width="88.80" height="67.50" fill="#e8e8e8"/>
<rect x="1008.70" y="807.70" width="88.80" height="67.10" fill="#e8e8e8"/>
<rect x="1008.70" y="878.60" width="88.80" height="52.10" fill="#e8e8e8"/>
<rect x="1008.70" y="934.70" width="88.80" height="51.30" fill="#e8e8e8"/>
<rect x="1101.10" y="284.20" width="88.80" height="53.80" fill="#e8e8e8"/>
<rect x="1101.10" y="341.70" width="88.80" height="279.50" fill="#e8e8e8"/>
<rect x="1101.10" y="624.80" width="88.80" height="52.50" fill="#e8e8e8"/>
<rect x="1101.10" y="680.70" width="88.80" height="52.50" fill="#e8e8e8"/>
<rect x="1101.10" y="736.20" width="88.80" height="67.50" fill="#e8e8e8"/>
<rect x="1101.10" y="807.70" width="88.80" height="67.10" fill="#e8e8e8"/>
<rect x="1101.10" y="878.60" width="88.80" height="52.10" fill="#e8e8e8"/>
<rect x="1101.10" y="934.70" width="88.80" height="51.30" fill="#e8e8e8"/>
<rect x="1193.50" y="284.20" width="88.80" height="53.80" fill="#e8e8e8"/>
<rect x="1193.50" y="341.70" width="88.80" height="279.50" fill="#e8e8e8"/>
<rect x="1193.50" y="624.80" width="88.80" height="52.50" fill="#e8e8e8"/>
<rect x="1193.50" y="680.70" width="88.80" height="52.50" fill="#e8e8e8"/>
<rect x="1193.50" y="736.20" width="88.80" height="67.50" fill="#e8e8e8"/>
<rect x="1193.50" y="807.70" width="88.80" height="67.10" fill="#e8e8e8"/>
<rect x="1193.50" y="878.60" width="88.80" height="52.10" fill="#e8e8e8"/>
<rect x="1193.50" y="934.70" width="88.80" height="51.30" fill="#e8e8e8"/>
<rect x="1285.90" y="284.20" width="88.80" height="53.80" fill="#e8e8e8"/>
<rect x="1285.90" y="341.70" width="88.80" height="279.50" fill="#e8e8e8"/>
<rect x="1285.90" y="624.80" width="88.80" height="52.50" fill="#e8e8e8"/>
<rect x="1285.90" y="680.70" width="88.80" height="52.50" fill="#e8e8e8"/>
<rect x="1285.90" y="736.20" width="88.80" height="67.50" fill="#e8e8e8"/>
<rect x="1285.90" y="807.70" width="88.80" height="67.10" fill="#e8e8e8"/>
<rect x="1285.90" y="878.60" width="88.80" height="52.10" fill="#e8e8e8"/>
<rect x="1285.90" y="934.70" width="88.80" height="51.30" fill="#e8e8e8"/>
<rect x="1378.30" y="284.20" width="89.90" height="53.80" fill="#e8e8e8"/>
<rect x="1378.30" y="341.70" width="89.90" height="279.50" fill="#e8e8e8"/>
<rect x="1378.30" y="624.80" width="89.90" height="52.50" fill="#e8e8e8"/>
<rect x="1378.30" y="680.70" width="89.90" height="52.50" fill="#e8e8e8"/>
<rect x="1378.30" y="736.20" width="89.90" height="67.50" fill="#e8e8e8"/>
<rect x="1378.30" y="807.70" width="89.90" height="67.10" fill="#e8e8e8"/>
<rect x="1378.30" y="878.60" width="89.90" height="52.10" fill="#e8e8e8"/>
<rect x="1378.30" y="934.70" width="89.90" height="51.30" fill="#e8e8e8"/>
<rect x="916.90" y="341.80" width="88.20" height="128.60" fill="#5db798"/>
<rect x="1008.70" y="341.80" width="88.80" height="128.60" fill="#5db798"/>
<rect x="1193.50" y="341.80" width="88.80" height="128.60" fill="#5db798"/>
<rect x="1285.90" y="341.80" width="88.80" height="67.70" fill="#5db798"/>
<rect x="1378.30" y="341.80" width="89.90" height="67.70" fill="#5db798"/>
<rect x="1008.70" y="807.70" width="181.20" height="67.10" fill="#e97b22"/>
<rect x="1378.30" y="878.60" width="89.90" height="52.10" fill="#49bfec"/>
<rect x="1378.30" y="934.70" width="89.90" height="51.30" fill="#a35d4a"/>
<rect x="916.90" y="409.10" width="88.20" height="0.8" fill="#000" opacity="0.02"/>
<rect x="1008.70" y="409.10" width="88.80" height="0.8" fill="#000" opacity="0.02"/>
<rect x="1101.10" y="409.10" width="88.80" height="0.8" fill="#000" opacity="0.02"/>
<rect x="1193.50" y="409.10" width="88.80" height="0.8" fill="#000" opacity="0.02"/>
<rect x="1285.90" y="409.10" width="88.80" height="0.8" fill="#000" opacity="0.02"/>
<rect x="1378.30" y="409.10" width="89.90" height="0.8" fill="#000" opacity="0.02"/>
<rect x="916.90" y="568.60" width="88.20" height="0.8" fill="#000" opacity="0.02"/>
<rect x="1008.70" y="568.60" width="88.80" height="0.8" fill="#000" opacity="0.02"/>
<rect x="1101.10" y="568.60" width="88.80" height="0.8" fill="#000" opacity="0.02"/>
<rect x="1193.50" y="568.60" width="88.80" height="0.8" fill="#000" opacity="0.02"/>
<rect x="1285.90" y="568.60" width="88.80" height="0.8" fill="#000" opacity="0.02"/>
<rect x="1378.30" y="568.60" width="89.90" height="0.8" fill="#000" opacity="0.02"/>
<rect x="357.30" y="161.40" width="559.60" height="48.40" fill="#4199bf"/>
<rect x="357.30" y="161.40" width="4.80" height="180.30" fill="#4199bf"/>
<rect x="22.20" y="337.20" width="339.90" height="4.50" fill="#4199bf"/>
<rect x="22.20" y="337.20" width="26.00" height="471.70" fill="#4199bf"/>
<rect x="22.20" y="803.70" width="894.70" height="5.20" fill="#4199bf"/>
<rect x="911.80" y="161.40" width="5.10" height="647.50" fill="#4199bf"/>
<text transform="translate(53.03,321.30) scale(0.6683,1)" x="0" y="0" font-family="Liberation Sans" font-weight="bold" font-size="28.00" fill="#ffffff" stroke="#ffffff" stroke-width="1.047" stroke-linejoin="round">BCG</text>
<text transform="translate(53.35,371.40) scale(0.7147,1)" x="0" y="0" font-family="Liberation Sans" font-weight="bold" font-size="28.00" fill="#ffffff" stroke="#ffffff" stroke-width="0.979" stroke-linejoin="round">Diphtérie-Tétanos-</text>
<text transform="translate(53.32,399.20) scale(0.7334,1)" x="0" y="0" font-family="Liberation Sans" font-weight="bold" font-size="28.00" fill="#ffffff" stroke="#ffffff" stroke-width="0.954" stroke-linejoin="round">Poliomyélite</text>
<text transform="translate(53.87,451.00) scale(0.6934,1)" x="0" y="0" font-family="Liberation Sans" font-weight="bold" font-size="28.00" fill="#ffffff" stroke="#ffffff" stroke-width="1.010" stroke-linejoin="round">Coqueluche</text>
<text transform="translate(53.35,502.60) scale(0.7149,1)" x="0" y="0" font-family="Liberation Sans" font-weight="bold" font-size="28.00" fill="#ffffff" stroke="#ffffff" stroke-width="0.979" stroke-linejoin="round">Haemophilus</text>
<text transform="translate(53.37,529.30) scale(0.7041,1)" x="0" y="0" font-family="Liberation Sans" font-weight="bold" font-size="28.00" fill="#ffffff" stroke="#ffffff" stroke-width="0.994" stroke-linejoin="round">Influenzae de type b</text>
<text transform="translate(53.62,554.90) scale(0.7330,1)" x="0" y="0" font-family="Liberation Sans" font-weight="bold" font-size="28.00" fill="#ffffff" stroke="#ffffff" stroke-width="0.955" stroke-linejoin="round">(HIB)</text>
<text transform="translate(53.26,606.30) scale(0.7091,1)" x="0" y="0" font-family="Liberation Sans" font-weight="bold" font-size="28.00" fill="#ffffff" stroke="#ffffff" stroke-width="0.987" stroke-linejoin="round">Hépatite B</text>
<text transform="translate(53.28,661.60) scale(0.6975,1)" x="0" y="0" font-family="Liberation Sans" font-weight="bold" font-size="28.00" fill="#ffffff" stroke="#ffffff" stroke-width="1.004" stroke-linejoin="round">Pneumocoque</text>
<text transform="translate(53.31,716.60) scale(0.6816,1)" x="0" y="0" font-family="Liberation Sans" font-weight="bold" font-size="28.00" fill="#ffffff" stroke="#ffffff" stroke-width="1.027" stroke-linejoin="round">Méningocoque C</text>
<text transform="translate(53.24,767.50) scale(0.7177,1)" x="0" y="0" font-family="Liberation Sans" font-weight="bold" font-size="28.00" fill="#ffffff" stroke="#ffffff" stroke-width="0.975" stroke-linejoin="round">Rougeole-Oreillons-</text>
<text transform="translate(53.26,794.10) scale(0.7069,1)" x="0" y="0" font-family="Liberation Sans" font-weight="bold" font-size="28.00" fill="#ffffff" stroke="#ffffff" stroke-width="0.990" stroke-linejoin="round">Rubéole</text>
<text transform="translate(53.02,838.60) scale(0.7331,1)" x="0" y="0" font-family="Liberation Sans" font-weight="bold" font-size="28.00" fill="#ffffff" stroke="#ffffff" stroke-width="0.955" stroke-linejoin="round">Papillomavirus</text>
<text transform="translate(52.97,865.70) scale(0.7049,1)" x="0" y="0" font-family="Liberation Sans" font-weight="bold" font-size="28.00" fill="#ffffff" stroke="#ffffff" stroke-width="0.993" stroke-linejoin="round">humain (HPV)</text>
<text transform="translate(53.56,915.30) scale(0.7075,1)" x="0" y="0" font-family="Liberation Sans" font-weight="bold" font-size="28.00" fill="#ffffff" stroke="#ffffff" stroke-width="0.989" stroke-linejoin="round">Grippe</text>
<text transform="translate(53.79,970.40) scale(0.6706,1)" x="0" y="0" font-family="Liberation Sans" font-weight="bold" font-size="28.00" fill="#ffffff" stroke="#ffffff" stroke-width="1.044" stroke-linejoin="round">Zona</text>
<text transform="translate(57.98,250.00) scale(0.7817,1)" x="0" y="0" font-family="Liberation Sans" font-weight="bold" font-size="26.50" fill="#575656">Âge approprié</text>
<g transform="translate(318.25,255.50) rotate(-36)"><text x="0" y="0" font-family="Liberation Sans" font-weight="bold" font-size="27.0" fill="#575656" stroke="#575656" stroke-width="0.45" text-anchor="middle" textLength="61.48" lengthAdjust="spacingAndGlyphs">1 mois</text></g>
<g transform="translate(411.00,256.30) rotate(-36)"><text x="0" y="0" font-family="Liberation Sans" font-weight="bold" font-size="27.0" fill="#575656" stroke="#575656" stroke-width="0.45" text-anchor="middle" textLength="64.16" lengthAdjust="spacingAndGlyphs">2 mois</text></g>
<g transform="translate(502.25,256.25) rotate(-36)"><text x="0" y="0" font-family="Liberation Sans" font-weight="bold" font-size="27.0" fill="#575656" stroke="#575656" stroke-width="0.45" text-anchor="middle" textLength="65.19" lengthAdjust="spacingAndGlyphs">4 mois</text></g>
<g transform="translate(593.70,256.00) rotate(-36)"><text x="0" y="0" font-family="Liberation Sans" font-weight="bold" font-size="27.0" fill="#575656" stroke="#575656" stroke-width="0.45" text-anchor="middle" textLength="64.64" lengthAdjust="spacingAndGlyphs">5 mois</text></g>
<g transform="translate(688.70,251.85) rotate(-36)"><text x="0" y="0" font-family="Liberation Sans" font-weight="bold" font-size="27.0" fill="#575656" stroke="#575656" stroke-width="0.45" text-anchor="middle" textLength="73.63" lengthAdjust="spacingAndGlyphs">11 mois</text></g>
<g transform="translate(781.70,251.85) rotate(-36)"><text x="0" y="0" font-family="Liberation Sans" font-weight="bold" font-size="27.0" fill="#575656" stroke="#575656" stroke-width="0.45" text-anchor="middle" textLength="74.60" lengthAdjust="spacingAndGlyphs">12 mois</text></g>
<g transform="translate(873.50,250.00) rotate(-36)"><text x="0" y="0" font-family="Liberation Sans" font-weight="bold" font-size="27.0" fill="#575656" stroke="#575656" stroke-width="0.45" text-anchor="middle" textLength="93.16" lengthAdjust="spacingAndGlyphs">16-18 mois</text></g>
<g transform="translate(966.35,256.30) rotate(-36)"><text x="0" y="0" font-family="Liberation Sans" font-weight="bold" font-size="27.0" fill="#575656" stroke="#575656" stroke-width="0.45" text-anchor="middle" textLength="50.52" lengthAdjust="spacingAndGlyphs">6 ans</text></g>
<g transform="translate(1059.80,245.15) rotate(-36)"><text x="0" y="0" font-family="Liberation Sans" font-weight="bold" font-size="27.0" fill="#575656" stroke="#575656" stroke-width="0.45" text-anchor="middle" textLength="89.91" lengthAdjust="spacingAndGlyphs">11-13 ans</text></g>
<g transform="translate(1150.55,252.05) rotate(-36)"><text x="0" y="0" font-family="Liberation Sans" font-weight="bold" font-size="27.0" fill="#575656" stroke="#575656" stroke-width="0.45" text-anchor="middle" textLength="63.22" lengthAdjust="spacingAndGlyphs">14 ans</text></g>
<g transform="translate(1242.60,253.70) rotate(-36)"><text x="0" y="0" font-family="Liberation Sans" font-weight="bold" font-size="27.0" fill="#575656" stroke="#575656" stroke-width="0.45" text-anchor="middle" textLength="63.70" lengthAdjust="spacingAndGlyphs">25 ans</text></g>
<g transform="translate(1333.50,253.75) rotate(-36)"><text x="0" y="0" font-family="Liberation Sans" font-weight="bold" font-size="27.0" fill="#575656" stroke="#575656" stroke-width="0.45" text-anchor="middle" textLength="64.26" lengthAdjust="spacingAndGlyphs">45 ans</text></g>
<g transform="translate(1429.20,244.00) rotate(-36)"><text x="0" y="0" font-family="Liberation Sans" font-weight="bold" font-size="27.0" fill="#575656" stroke="#575656" stroke-width="0.45" text-anchor="middle" textLength="104.12" lengthAdjust="spacingAndGlyphs">65 ans et +</text></g>
<text transform="translate(467.93,182.50) scale(0.6400,1)" x="0" y="0" font-family="Liberation Sans" font-weight="bold" font-size="23.00" fill="#ffffff" letter-spacing="7.419" stroke="#ffffff" stroke-width="1.562" stroke-linejoin="round">VACCINATIONS OBLIGATOIRES</text>
<text transform="translate(437.47,202.30) scale(0.7551,1)" x="0" y="0" font-family="Liberation Sans" font-weight="bold" font-size="21.00" fill="#ffffff" stroke="#ffffff" stroke-width="0.795" stroke-linejoin="round">pour les nourrissons nés à partir du 1</text>
<text transform="translate(722.97,195.00) scale(1.2079,1)" x="0" y="0" font-family="Liberation Sans" font-weight="bold" font-size="12.00" fill="#ffffff" stroke="#ffffff" stroke-width="0.248" stroke-linejoin="round">er</text>
<text transform="translate(740.55,202.30) scale(0.7806,1)" x="0" y="0" font-family="Liberation Sans" font-weight="bold" font-size="21.00" fill="#ffffff" stroke="#ffffff" stroke-width="0.769" stroke-linejoin="round">janvier 2018</text>
<text transform="translate(73.20,62.90) scale(0.8311,1)" x="0" y="0" font-family="Liberation Sans" font-weight="bold" font-size="72.00" fill="#ffffff" stroke="#ffffff" stroke-width="1.925" stroke-linejoin="round">Vaccination</text>
<text transform="translate(408.88,62.90) scale(0.7639,1)" x="0" y="0" font-family="Liberation Sans" font-weight="bold" font-size="72.00" fill="#ffffff" stroke="#ffffff" stroke-width="2.095" stroke-linejoin="round">:</text>
<text transform="translate(440.27,62.90) scale(0.8448,1)" x="0" y="0" font-family="Liberation Sans" font-weight="bold" font-size="72.00" fill="#ffffff" stroke="#ffffff" stroke-width="1.894" stroke-linejoin="round">êtes-vous</text>
<text transform="translate(736.58,62.90) scale(0.7892,1)" x="0" y="0" font-family="Liberation Sans" font-weight="bold" font-size="72.00" fill="#ffffff" stroke="#ffffff" stroke-width="2.027" stroke-linejoin="round">à</text>
<text transform="translate(784.73,62.90) scale(0.8657,1)" x="0" y="0" font-family="Liberation Sans" font-weight="bold" font-size="72.00" fill="#ffffff" stroke="#ffffff" stroke-width="1.848" stroke-linejoin="round">jour</text>
<text transform="translate(909.33,62.90) scale(0.7625,1)" x="0" y="0" font-family="Liberation Sans" font-weight="bold" font-size="72.00" fill="#ffffff" stroke="#ffffff" stroke-width="2.098" stroke-linejoin="round">?</text>
<text transform="translate(1070.86,81.30) scale(0.7986,1)" x="0" y="0" font-family="Liberation Sans" font-weight="bold" font-size="91.00" fill="#555555" stroke="#555555" stroke-width="1.503" stroke-linejoin="round">2019</text>
<text transform="translate(1068.28,118.40) scale(0.9276,1)" x="0" y="0" font-family="Liberation Sans" font-weight="bold" font-size="41.00" fill="#555555" stroke="#555555" stroke-width="0.647" stroke-linejoin="round">calendrier</text>
<text transform="translate(1259.48,118.40) scale(0.9187,1)" x="0" y="0" font-family="Liberation Sans" font-weight="bold" font-size="41.00" fill="#555555" stroke="#555555" stroke-width="0.653" stroke-linejoin="round">simplifié</text>
<text transform="translate(1068.82,155.50) scale(0.9012,1)" x="0" y="0" font-family="Liberation Sans" font-weight="bold" font-size="41.00" fill="#555555" stroke="#555555" stroke-width="0.666" stroke-linejoin="round">des</text>
<text transform="translate(1138.42,155.50) scale(0.8721,1)" x="0" y="0" font-family="Liberation Sans" font-weight="bold" font-size="41.00" fill="#555555" stroke="#555555" stroke-width="0.688" stroke-linejoin="round">vaccinations</text>
<text transform="translate(1405.03,372.40) scale(0.6426,1)" x="0" y="0" font-family="Liberation Sans" font-weight="bold" font-size="22.50" fill="#1c1718" stroke="#1c1718" stroke-width="0.545" stroke-linejoin="round">Tous</text>
<text transform="translate(1385.61,394.20) scale(0.6743,1)" x="0" y="0" font-family="Liberation Sans" font-weight="bold" font-size="22.50" fill="#1c1718" stroke="#1c1718" stroke-width="0.519" stroke-linejoin="round">les 10 ans</text>
<text transform="translate(1405.13,904.10) scale(0.6387,1)" x="0" y="0" font-family="Liberation Sans" font-weight="bold" font-size="22.50" fill="#1c1718" stroke="#1c1718" stroke-width="0.548" stroke-linejoin="round">Tous</text>
<text transform="translate(1395.59,922.20) scale(0.6863,1)" x="0" y="0" font-family="Liberation Sans" font-weight="bold" font-size="22.50" fill="#1c1718" stroke="#1c1718" stroke-width="0.510" stroke-linejoin="round">les ans</text>
<g transform="translate(42.1,733.6) rotate(-90)"><text transform="translate(0.43,0.00) scale(0.6400,1)" x="0" y="0" font-family="Liberation Sans" font-weight="bold" font-size="22.40" fill="#ffffff" letter-spacing="6.797" stroke="#ffffff" stroke-width="1.562" stroke-linejoin="round">VACCINATIONS OBLIGATOIRES</text></g></svg>
</body></html>
